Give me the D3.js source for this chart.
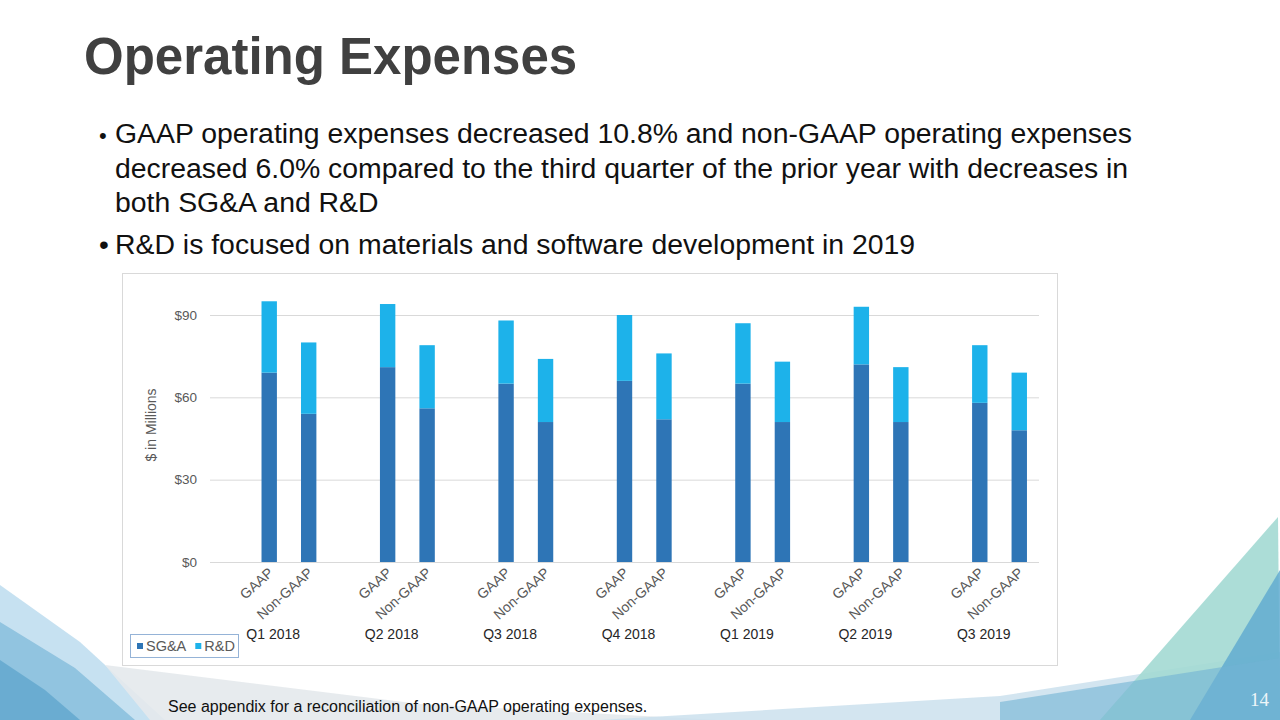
<!DOCTYPE html>
<html>
<head>
<meta charset="utf-8">
<script src="https://cdn.jsdelivr.net/npm/d3@7.9.0/dist/d3.min.js"></script>
<style>
  body { margin: 0; background: #fff; }
  svg { display: block; font-family: "Liberation Sans", Arial, sans-serif; }
</style>
</head>
<body>
<svg id="slide" width="1280" height="720"></svg>
<script>
// chart data, $ in millions
const quarters = ['Q1 2018', 'Q2 2018', 'Q3 2018', 'Q4 2018', 'Q1 2019', 'Q2 2019', 'Q3 2019'];
const subCats = ['', 'GAAP', 'Non-GAAP'];   // first slot is empty, like the excel layout
const sgaGaap = [69, 71, 65, 66, 65, 72, 58];
const rdGaap = [26, 23, 23, 24, 22, 21, 21];
const sgaNonGaap = [54, 56, 51, 52, 51, 51, 48];
const rdNonGaap = [26, 23, 23, 24, 22, 20, 21];
const yTicks = [0, 30, 60, 90];
const seriesNames = ['SG&A', 'R&D'];
const colors = ['#2e75b6', '#1db2ea'];

const svg = d3.select('#slide');
svg.append('rect').attr('width', 1280).attr('height', 720).attr('fill', '#fff');

// background decoration, corners
const deco = svg.append('g');
const shapes = [
  { pts: [[0, 585], [80, 642], [165, 720], [0, 720]], fill: '#bcdcee', op: 0.85 },
  { pts: [[0, 622], [75, 668], [135, 720], [0, 720]], fill: '#7fb9da', op: 0.75 },
  { pts: [[0, 660], [45, 690], [80, 720], [0, 720]], fill: '#5aa3cb', op: 0.7 },
  { pts: [[105, 665], [420, 704], [720, 720], [150, 720]], fill: '#e4e9ec', op: 0.9 },
  { pts: [[600, 720], [1000, 696], [1280, 652], [1280, 720]], fill: '#cbe1ed', op: 0.85 },
  { pts: [[1278, 517], [1100, 720], [1280, 720]], fill: '#a3d9d3', op: 0.9 },
  { pts: [[1280, 570], [1190, 720], [1280, 720]], fill: '#62acd0', op: 0.85 },
  { pts: [[1000, 702], [1280, 658], [1280, 720], [1000, 720]], fill: '#72b3d3', op: 0.6 }
];
shapes.forEach(s => {
  deco.append('polygon')
    .attr('points', s.pts.map(p => p.join(',')).join(' '))
    .attr('fill', s.fill)
    .attr('opacity', s.op);
});

// title + bullets
svg.append('text').attr('x', 84).attr('y', 74)
  .attr('font-size', 51).attr('font-weight', 'bold').attr('fill', '#404040')
  .text('Operating Expenses');

const bulletLines = [
  'GAAP operating expenses decreased 10.8% and non-GAAP operating expenses',
  'decreased 6.0% compared to the third quarter of the prior year with decreases in',
  'both SG&A and R&D'
];
const b1 = svg.append('text').attr('font-size', 28.4).attr('fill', '#111');
bulletLines.forEach((l, i) => {
  b1.append('tspan').attr('x', 115).attr('y', 143 + i * 34.5).text(l);
});
svg.append('text').attr('x', 99).attr('y', 143).attr('font-size', 22).attr('fill', '#111').text('•');
svg.append('text').attr('x', 99).attr('y', 254).attr('font-size', 28).attr('fill', '#111').text('•');
svg.append('text').attr('x', 115).attr('y', 254).attr('font-size', 28.4).attr('fill', '#111')
  .text('R&D is focused on materials and software development in 2019');

// chart frame
svg.append('rect').attr('x', 122.5).attr('y', 273.5).attr('width', 935).attr('height', 392)
  .attr('fill', '#fff').attr('stroke', '#d9d9d9');

const x0 = d3.scaleBand().domain(quarters).range([210, 1039]);
const x1 = d3.scaleBand().domain(subCats).range([0, x0.bandwidth()])
  .paddingInner(0.61).paddingOuter(0.305);
const y = d3.scaleLinear().domain([0, 90]).range([562, 315]);

// gridlines + y labels
const yAxis = svg.append('g').attr('transform', 'translate(210,0)')
  .call(d3.axisLeft(y).tickValues(yTicks).tickSize(-829).tickPadding(13).tickFormat(d => '$' + d));
yAxis.select('.domain').remove();
yAxis.selectAll('line').attr('stroke', '#d9d9d9');
yAxis.selectAll('text').attr('font-size', 13.5).attr('fill', '#595959')
  .attr('font-family', '"Liberation Sans", Arial, sans-serif');

svg.append('text')
  .attr('transform', 'translate(156,425) rotate(-90)')
  .attr('text-anchor', 'middle').attr('font-size', 14).attr('fill', '#595959')
  .text('$ in Millions');

// rows for the stack
let rows = [];
quarters.forEach((q, i) => {
  rows.push({ quarter: q, type: 'GAAP', sga: sgaGaap[i], rd: rdGaap[i] });
  rows.push({ quarter: q, type: 'Non-GAAP', sga: sgaNonGaap[i], rd: rdNonGaap[i] });
});
const stacked = d3.stack().keys(['sga', 'rd'])(rows);

stacked.forEach((layer, li) => {
  svg.append('g').attr('fill', colors[li])
    .selectAll('rect')
    .data(layer)
    .join('rect')
    .attr('x', d => x0(d.data.quarter) + x1(d.data.type))
    .attr('width', x1.bandwidth())
    .attr('y', d => y(d[1]))
    .attr('height', d => y(d[0]) - y(d[1]));
});

// category labels
rows.forEach(r => {
  const cx = x0(r.quarter) + x1(r.type) + x1.bandwidth() / 2 + 5;
  svg.append('text')
    .attr('transform', `translate(${cx},574) rotate(-42)`)
    .attr('text-anchor', 'end').attr('font-size', 14).attr('fill', '#595959')
    .text(r.type);
});
quarters.forEach(q => {
  svg.append('text')
    .attr('x', x0(q) + x0.bandwidth() / 2 + 4).attr('y', 639)
    .attr('text-anchor', 'middle').attr('font-size', 14).attr('fill', '#262626')
    .text(q);
});

// legend
const lg = svg.append('g');
lg.append('rect').attr('x', 130.5).attr('y', 634.5).attr('width', 108).attr('height', 23)
  .attr('fill', '#fff').attr('stroke', '#95b3d7');
let lx = 137;
seriesNames.forEach((n, i) => {
  lg.append('rect').attr('x', lx).attr('y', 643).attr('width', 6).attr('height', 6).attr('fill', colors[i]);
  let t = lg.append('text').attr('x', lx + 9).attr('y', 651).attr('font-size', 14.5).attr('fill', '#595959').text(n);
  lx += 9 + t.node().getComputedTextLength() + 9;
});

// footnote and page number
svg.append('text').attr('x', 168).attr('y', 712).attr('font-size', 16).attr('fill', '#111')
  .text('See appendix for a reconciliation of non-GAAP operating expenses.');
svg.append('text').attr('x', 1250).attr('y', 706).attr('font-size', 19)
  .attr('font-family', '"Liberation Serif", serif').attr('fill', '#eef6f9')
  .text('14');
</script>
</body>
</html>
